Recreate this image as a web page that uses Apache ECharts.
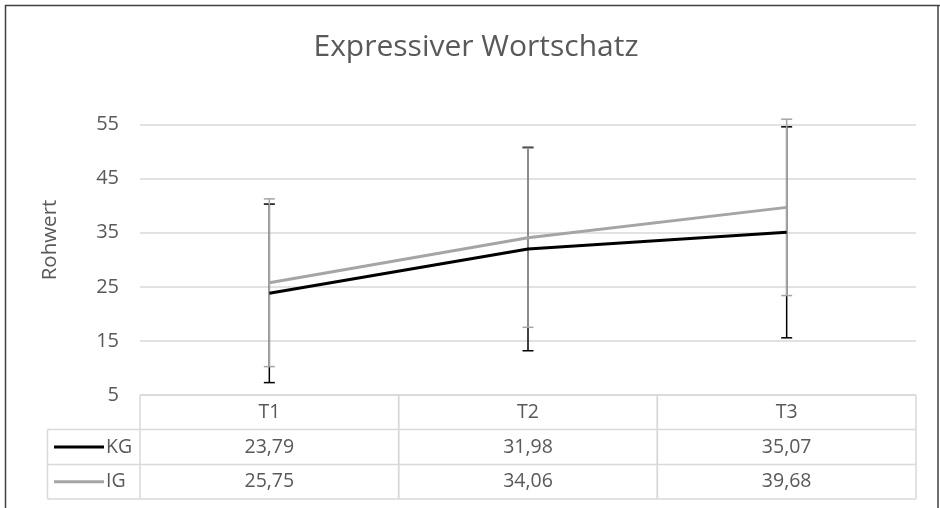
<!DOCTYPE html>
<html>
<head>
<meta charset="utf-8">
<script src="https://cdn.jsdelivr.net/npm/echarts@6/dist/echarts.min.js"></script>
<style>
html,body{margin:0;padding:0;background:#fff;}
#chart{width:940px;height:508px;}
</style>
</head>
<body>
<div id="chart"></div>
<script>
// ---- data ----
const categories = ['T1', 'T2', 'T3'];
const seriesNames = ['KG', 'IG'];
const kgMean = [23.79, 31.98, 35.07];
const igMean = [25.75, 34.06, 39.68];
const kgSD = [16.5, 18.8, 19.5];
const igSD = [15.5, 16.55, 16.3];
const yMin = 5, yMax = 55, yStep = 10;
const chartTitle = 'Expressiver Wortschatz';
const yTitle = 'Rohwert';

// ---- styles ----
const FONT = 'Open Sans';
const TXT = '#595959';
const GRID = '#D9D9D9';
const KG_COLOR = '#000000';
const IG_COLOR = '#A5A5A5';

const fmt = v => v.toFixed(2).replace('.', ',');

function errorSeries(name, mean, sd, color) {
  return {
    type: 'custom',
    name: name + ' SD',
    clip: false,
    silent: true,
    encode: { x: 0, y: [1, 2] },
    data: categories.map((c, i) => [i, mean[i] - sd[i], mean[i] + sd[i]]),
    renderItem: function (params, api) {
      const x = api.value(0);
      const hi = api.coord([x, api.value(2)]);
      const lo = api.coord([x, api.value(1)]);
      const hw = 5.5;
      const st = { stroke: color, lineWidth: 1.5 };
      return {
        type: 'group',
        children: [
          { type: 'line', shape: { x1: hi[0], y1: hi[1], x2: lo[0], y2: lo[1] }, style: st },
          { type: 'line', shape: { x1: hi[0] - hw, y1: hi[1], x2: hi[0] + hw, y2: hi[1] }, style: st },
          { type: 'line', shape: { x1: lo[0] - hw, y1: lo[1], x2: lo[0] + hw, y2: lo[1] }, style: st }
        ]
      };
    }
  };
}

const tableSeries = {
  type: 'custom',
  name: 'table',
  clip: false,
  silent: true,
  encode: { x: 0, y: 1 },
  data: categories.map((c, i) => [i, yMin]),
  renderItem: function (params, api) {
    const i = api.value(0);
    const p = api.coord([i, yMin]);
    const bw = api.size([1, 0])[0];
    const left = p[0] - bw / 2, right = p[0] + bw / 2, top = p[1];
    const r1 = top + 34.5, r2 = top + 69.5, r3 = top + 104;
    const ls = { stroke: GRID, lineWidth: 1.5 };
    const ts = (t, x, y, align) => ({
      type: 'text',
      style: { text: t, x: x, y: y, align: align || 'center', verticalAlign: 'middle',
               fill: TXT, font: '19.5px "' + FONT + '"' }
    });
    const ch = [
      { type: 'line', shape: { x1: left, y1: top, x2: right, y2: top }, style: ls },
      { type: 'line', shape: { x1: left, y1: r1, x2: right, y2: r1 }, style: ls },
      { type: 'line', shape: { x1: left, y1: r2, x2: right, y2: r2 }, style: ls },
      { type: 'line', shape: { x1: left, y1: r3, x2: right, y2: r3 }, style: ls },
      { type: 'line', shape: { x1: left, y1: top, x2: left, y2: r3 }, style: ls },
      { type: 'line', shape: { x1: right, y1: top, x2: right, y2: r3 }, style: ls },
      ts(categories[i], p[0], (top + r1) / 2),
      ts(fmt(kgMean[i]), p[0], (r1 + r2) / 2),
      ts(fmt(igMean[i]), p[0], (r2 + r3) / 2)
    ];
    if (params.dataIndex === 0) {
      const lx = 47.5;
      ch.push(
        { type: 'line', shape: { x1: lx, y1: r1, x2: left, y2: r1 }, style: ls },
        { type: 'line', shape: { x1: lx, y1: r2, x2: left, y2: r2 }, style: ls },
        { type: 'line', shape: { x1: lx, y1: r3, x2: left, y2: r3 }, style: ls },
        { type: 'line', shape: { x1: lx, y1: r1, x2: lx, y2: r3 }, style: ls },
        { type: 'line', shape: { x1: 54, y1: (r1 + r2) / 2, x2: 104, y2: (r1 + r2) / 2 },
          style: { stroke: KG_COLOR, lineWidth: 3 } },
        { type: 'line', shape: { x1: 54, y1: (r2 + r3) / 2, x2: 104, y2: (r2 + r3) / 2 },
          style: { stroke: IG_COLOR, lineWidth: 3 } },
        ts(seriesNames[0], 106, (r1 + r2) / 2, 'left'),
        ts(seriesNames[1], 106, (r2 + r3) / 2, 'left')
      );
    }
    return { type: 'group', children: ch };
  }
};

const chart = echarts.init(document.getElementById('chart'), null, { renderer: 'canvas' });
chart.setOption({
  animation: false,
  backgroundColor: '#ffffff',
  textStyle: { fontFamily: FONT },
  grid: { left: 140, right: 24, top: 124.5, bottom: 113, containLabel: false },
  xAxis: {
    type: 'category',
    data: categories,
    boundaryGap: true,
    axisLine: { show: false },
    axisTick: { show: false },
    axisLabel: { show: false },
    splitLine: { show: false }
  },
  yAxis: {
    type: 'value',
    min: yMin, max: yMax, interval: yStep,
    axisLine: { show: false },
    axisTick: { show: false },
    axisLabel: { color: TXT, fontSize: 20, fontFamily: FONT, margin: 21 },
    splitLine: { lineStyle: { color: GRID, width: 1.5 } }
  },
  graphic: [
    { type: 'text', x: 476, y: 47,
      style: { text: chartTitle, fill: TXT, font: '30px "' + FONT + '"', align: 'center', verticalAlign: 'middle' } },
    { type: 'text', x: 50, y: 240, rotation: Math.PI / 2,
      style: { text: yTitle, fill: TXT, font: '20.5px "' + FONT + '"', align: 'center', verticalAlign: 'middle' } },
    { type: 'line', shape: { x1: 5, y1: 5.5, x2: 940, y2: 5.5 }, style: { stroke: '#404040', lineWidth: 1.5 } },
    { type: 'line', shape: { x1: 5.5, y1: 5, x2: 5.5, y2: 508 }, style: { stroke: '#404040', lineWidth: 1.5 } },
    { type: 'line', shape: { x1: 938, y1: 5, x2: 938, y2: 508 }, style: { stroke: '#404040', lineWidth: 1.5 } }
  ],
  series: [
    tableSeries,
    { type: 'line', name: seriesNames[0], data: kgMean, showSymbol: false, symbol: 'none',
      lineStyle: { color: KG_COLOR, width: 3 }, itemStyle: { color: KG_COLOR }, z: 3 },
    errorSeries(seriesNames[0], kgMean, kgSD, KG_COLOR),
    { type: 'line', name: seriesNames[1], data: igMean, showSymbol: false, symbol: 'none',
      lineStyle: { color: IG_COLOR, width: 3 }, itemStyle: { color: IG_COLOR }, z: 3 },
    errorSeries(seriesNames[1], igMean, igSD, IG_COLOR)
  ]
});
</script>
</body>
</html>
